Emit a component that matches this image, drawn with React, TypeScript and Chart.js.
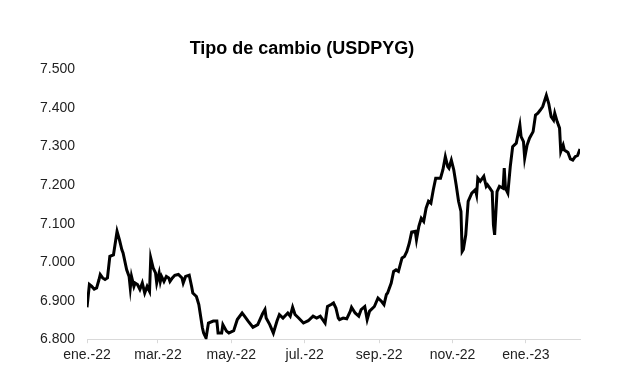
import React, { useEffect, useRef } from "react";
import { Chart, registerables } from "chart.js";

Chart.register(...registerables);

// Days elapsed since 2022-01-01 for each observation
const days: number[] = [
  0, 2, 4, 6, 8, 10, 11, 13, 15, 17, 19, 22, 25, 27, 29, 30, 33, 35, 36, 37,
  39, 40, 42, 44, 46, 48, 50, 52, 53, 55, 57, 58, 60, 61, 62, 64, 66, 68, 69, 71,
  73, 76, 79, 80, 82, 85, 87, 88, 91, 93, 96, 97, 99, 101, 105, 108, 109, 112, 113, 116,
  118, 122, 125, 129, 131, 134, 138, 142, 146, 148, 149, 152, 155, 158, 160, 163, 167, 169, 171, 173,
  176, 180, 184, 188, 191, 194, 196, 198, 200, 203, 205, 207, 209, 210, 213, 216, 219, 220, 223, 226,
  228, 231, 233, 235, 239, 242, 245, 247, 249, 250, 253, 255, 257, 259, 262, 264, 266, 268, 270, 273,
  274, 276, 278, 280, 282, 284, 286, 288, 290, 294, 296, 298, 300, 301, 303, 305, 307, 309, 311, 312,
  313, 315, 317, 320, 323, 324, 325, 327, 330, 332, 333, 335, 337, 338, 339, 341, 343, 346, 347, 348,
  350, 352, 354, 357, 360, 361, 363, 364, 366, 368, 371, 373, 375, 377, 379, 382, 384, 386, 388, 389,
  391, 393, 394, 396, 397, 400, 402, 404, 406, 408, 410,
];

// Guaraníes per US dollar
const usdpyg: number[] = [
  6883, 6942, 6937, 6930, 6933, 6955, 6968, 6959, 6955, 6959, 7015, 7019, 7080, 7058, 7032, 7024, 6980, 6963, 6933, 6963,
  6937, 6946, 6942, 6929, 6946, 6920, 6937, 6924, 7011, 6985, 6972, 6946, 6972, 6950, 6963, 6950, 6963, 6959, 6950, 6959,
  6966, 6968, 6959, 6946, 6963, 6966, 6937, 6920, 6911, 6890, 6829, 6816, 6803, 6842, 6847, 6847, 6816, 6816, 6838, 6821,
  6816, 6822, 6851, 6868, 6860, 6847, 6831, 6838, 6866, 6877, 6855, 6838, 6816, 6847, 6864, 6855, 6868, 6860, 6883, 6864,
  6855, 6842, 6848, 6860, 6855, 6860, 6851, 6842, 6885, 6890, 6894, 6881, 6855, 6851, 6855, 6853, 6873, 6883, 6868, 6860,
  6877, 6885, 6851, 6873, 6885, 6907, 6898, 6890, 6916, 6920, 6946, 6976, 6980, 6976, 7011, 7015, 7028, 7049, 7078, 7080,
  7058, 7093, 7114, 7106, 7140, 7158, 7153, 7188, 7218, 7218, 7240, 7274, 7248, 7244, 7265, 7240, 7201, 7158, 7132, 7028,
  7033, 7071, 7158, 7179, 7188, 7175, 7218, 7210, 7223, 7197, 7201, 7192, 7183, 7097, 7071, 7183, 7197, 7192, 7244, 7192,
  7179, 7248, 7300, 7309, 7356, 7326, 7313, 7270, 7304, 7322, 7339, 7382, 7387, 7395, 7404, 7433, 7412, 7378, 7369, 7387,
  7365, 7348, 7287, 7304, 7291, 7285, 7268, 7265, 7274, 7277, 7294,
];

const tickDays: number[] = [0, 59, 120, 181, 243, 304, 365];
const tickLabels: string[] = ["ene.-22", "mar.-22", "may.-22", "jul.-22", "sep.-22", "nov.-22", "ene.-23"];

const yMin = 6800;
const yMax = 7500;
const yStep = 100;

const titleText = "Tipo de cambio (USDPYG)";

function fmt(v: number): string {
  return Math.round(v)
    .toString()
    .replace(/\B(?=(\d{3})+(?!\d))/g, ".");
}

export default function App() {
  const ref = useRef<HTMLCanvasElement | null>(null);

  useEffect(() => {
    if (!ref.current) return;
    Chart.defaults.font.family = "'Liberation Sans', Arial, sans-serif";
    const chart = new Chart(ref.current, {
      type: "line",
      data: {
        datasets: [
          {
            label: "USDPYG",
            data: days.map((d, i) => ({ x: d, y: usdpyg[i] })),
            borderColor: "#000000",
            borderWidth: 3,
            pointRadius: 0,
            tension: 0,
            fill: false,
          },
        ],
      },
      options: {
        animation: false,
        responsive: false,
        layout: { padding: { left: 24, right: 37, top: 38, bottom: 24 } },
        plugins: {
          legend: { display: false },
          tooltip: { enabled: false },
          title: {
            display: true,
            text: titleText,
            color: "#000000",
            font: { size: 18, weight: "bold" },
            padding: { top: 0, bottom: 10 },
          },
        },
        scales: {
          x: {
            type: "linear",
            min: tickDays[0],
            max: days[days.length - 1],
            afterBuildTicks: (scale: any) => {
              scale.ticks = tickDays.map((v) => ({ value: v }));
            },
            ticks: {
              autoSkip: false,
              maxRotation: 0,
              padding: 4,
              color: "#222222",
              font: { size: 14 },
              callback: (value: any) => {
                const idx = tickDays.indexOf(Number(value));
                return idx >= 0 ? tickLabels[idx] : "";
              },
            },
            grid: {
              display: true,
              drawOnChartArea: false,
              drawTicks: true,
              tickLength: 4,
              color: "#d9d9d9",
            },
            border: { display: true, color: "#d9d9d9", width: 1 },
          },
          y: {
            min: yMin,
            max: yMax,
            afterFit: (scale: any) => {
              scale.width = 63;
            },
            ticks: {
              stepSize: yStep,
              padding: 12,
              color: "#222222",
              font: { size: 14 },
              callback: (value: any) => fmt(Number(value)),
            },
            grid: { display: false, drawTicks: false },
            border: { display: false },
          },
        },
      },
    });
    return () => chart.destroy();
  }, []);

  return (
    <div style={{ position: "absolute", left: 0, top: 0, width: 617, height: 392, background: "#ffffff" }}>
      <canvas ref={ref} width={617} height={392} />
    </div>
  );
}
